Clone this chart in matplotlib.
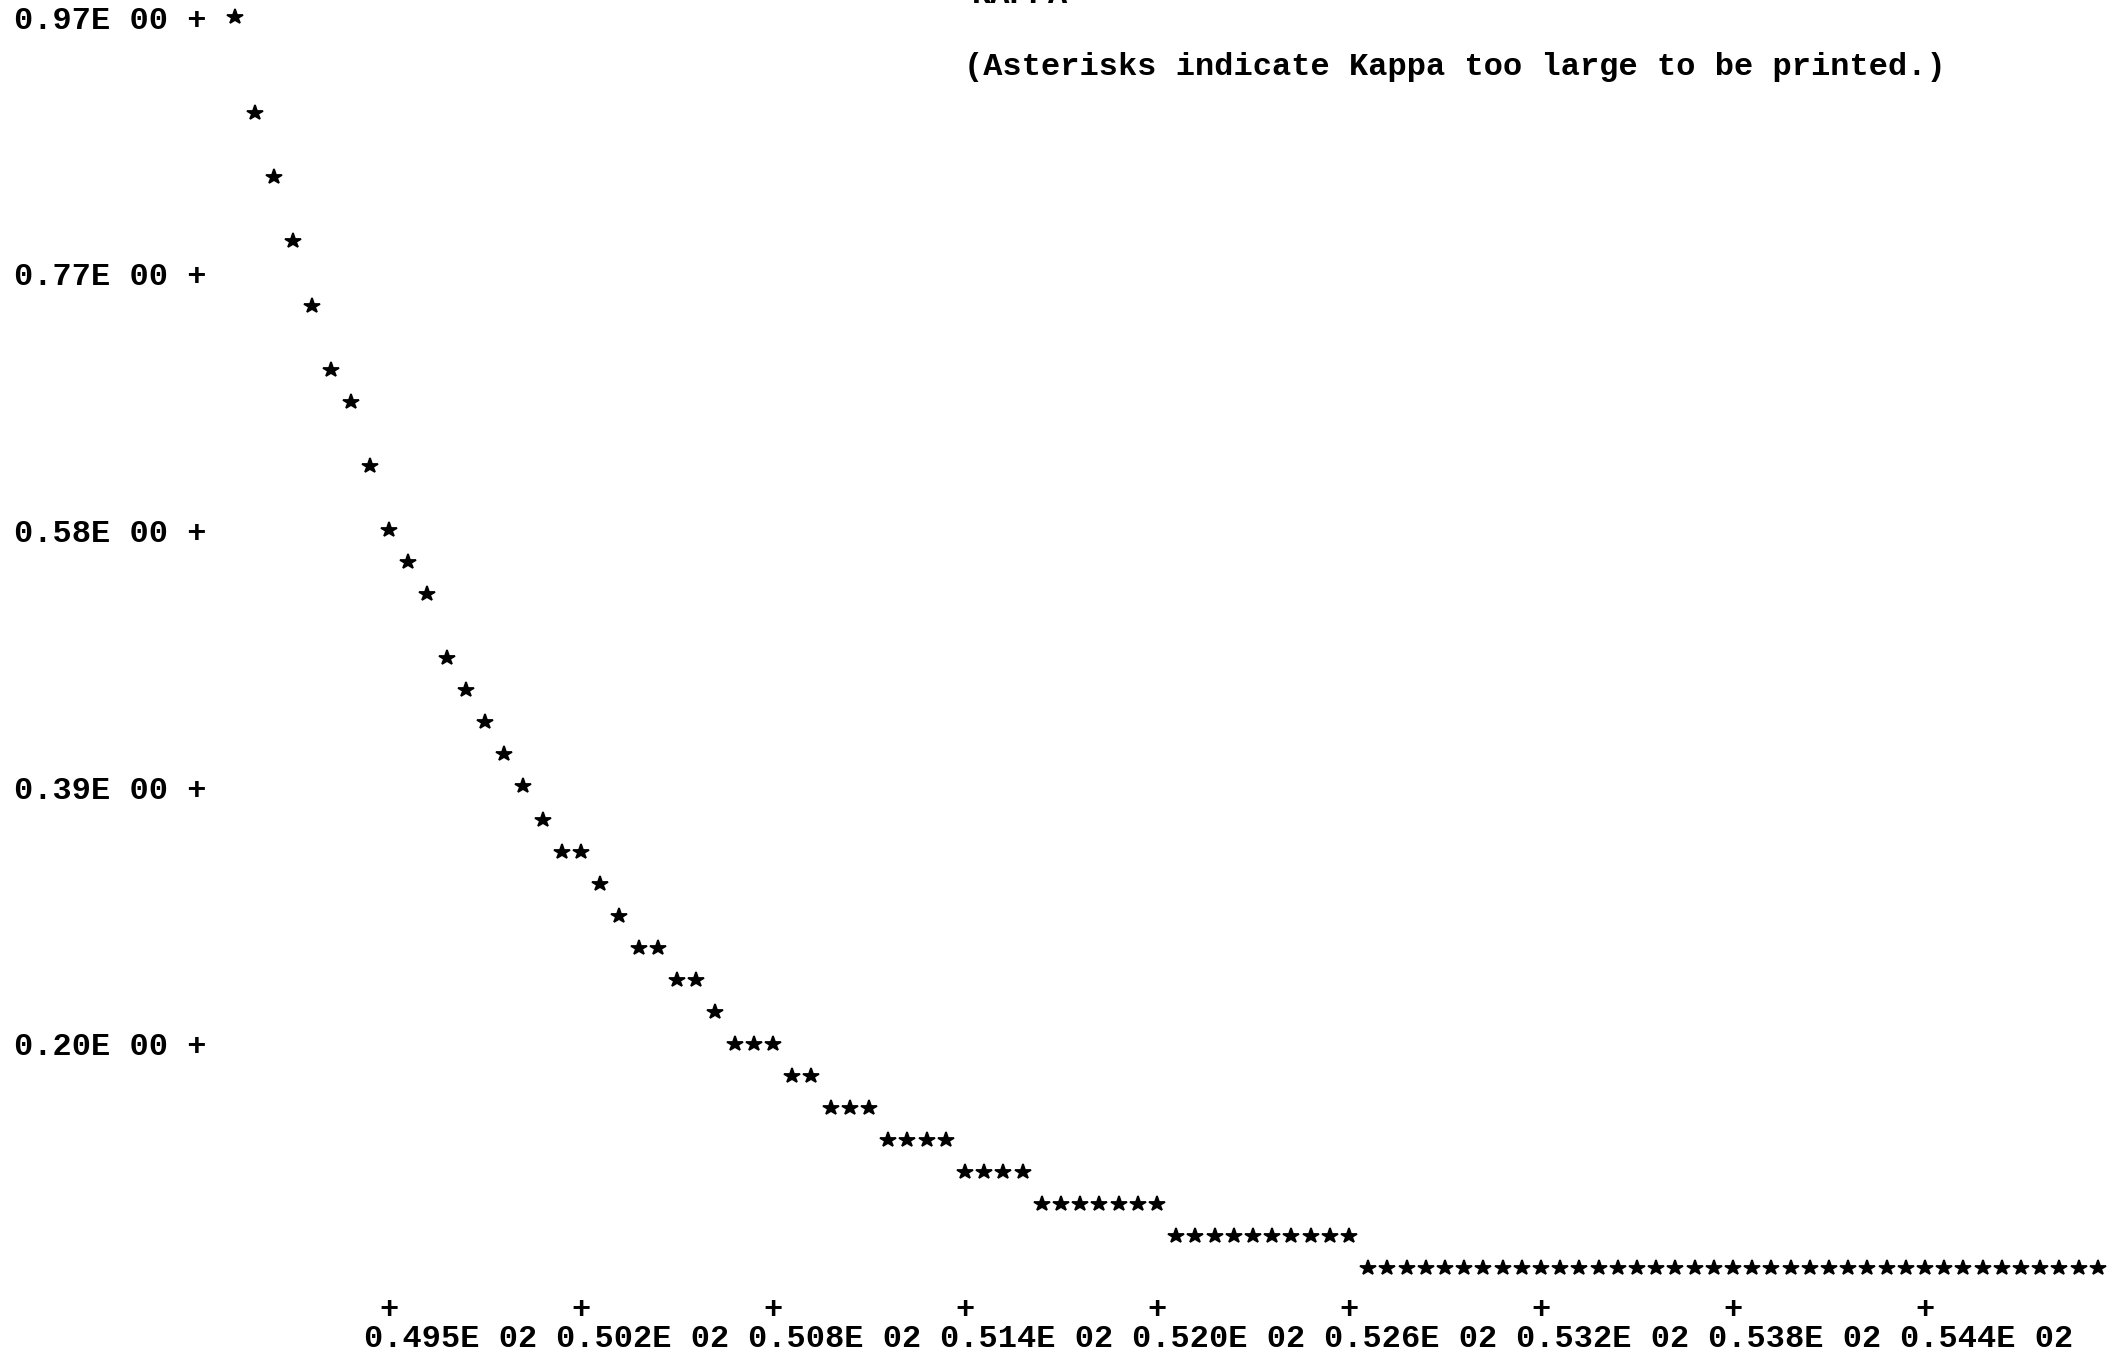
import matplotlib
matplotlib.use('Agg')
import matplotlib.pyplot as plt

# x: one sample per printer column, kappa: printed row level
X = [49.057, 49.118, 49.179, 49.240, 49.301, 49.362, 49.423, 49.484, 49.545, 49.606,
     49.667, 49.728, 49.789, 49.850, 49.911, 49.972, 50.033, 50.094, 50.155, 50.216,
     50.277, 50.338, 50.399, 50.460, 50.521, 50.582, 50.643, 50.704, 50.765, 50.826,
     50.887, 50.948, 51.009, 51.070, 51.131, 51.192, 51.253, 51.314, 51.375, 51.436,
     51.497, 51.558, 51.619, 51.680, 51.741, 51.802, 51.863, 51.924, 51.985, 52.046,
     52.107, 52.168, 52.229, 52.290, 52.351, 52.412, 52.473, 52.534, 52.595, 52.656,
     52.717, 52.778, 52.839, 52.900, 52.961, 53.022, 53.083, 53.144, 53.205, 53.266,
     53.327, 53.388, 53.449, 53.510, 53.571, 53.632, 53.693, 53.754, 53.815, 53.876,
     53.937, 53.998, 54.059, 54.120, 54.181, 54.242, 54.303, 54.364, 54.425, 54.486,
     54.547, 54.608, 54.669, 54.730, 54.791, 54.852, 54.913, 54.974]

KAPPA = [0.970, 0.898, 0.850, 0.802, 0.753, 0.705, 0.681, 0.633, 0.585, 0.561,
         0.537, 0.489, 0.465, 0.441, 0.417, 0.393, 0.368, 0.344, 0.344, 0.320,
         0.296, 0.272, 0.272, 0.248, 0.248, 0.224, 0.200, 0.200, 0.200, 0.176,
         0.176, 0.152, 0.152, 0.152, 0.128, 0.128, 0.128, 0.128, 0.104, 0.104,
         0.104, 0.104, 0.080, 0.080, 0.080, 0.080, 0.080, 0.080, 0.080, 0.056,
         0.056, 0.056, 0.056, 0.056, 0.056, 0.056, 0.056, 0.056, 0.056, 0.032,
         0.032, 0.032, 0.032, 0.032, 0.032, 0.032, 0.032, 0.032, 0.032, 0.032,
         0.032, 0.032, 0.032, 0.032, 0.032, 0.032, 0.032, 0.032, 0.032, 0.032,
         0.032, 0.032, 0.032, 0.032, 0.032, 0.032, 0.032, 0.032, 0.032, 0.032,
         0.032, 0.032, 0.032, 0.032, 0.032, 0.032, 0.032, 0.032]

Y_TICKS = [0.970, 0.7775, 0.585, 0.3925, 0.200]
Y_LABELS = ["0.97E 00 +", "0.77E 00 +", "0.58E 00 +", "0.39E 00 +", "0.20E 00 +"]

X_TICKS = [49.545, 50.155, 50.765, 51.375, 51.985, 52.595, 53.205, 53.815, 54.425]
X_LABELS = ["0.495E 02", "0.502E 02", "0.508E 02", "0.514E 02", "0.520E 02",
            "0.526E 02", "0.532E 02", "0.538E 02", "0.544E 02"]

NOTE = "(Asterisks indicate Kappa too large to be printed.)"
TITLE = "KAPPA"

FONT = dict(family="Liberation Mono", size=23, weight="bold", color="black")

W, H = 2111, 1353
fig = plt.figure(figsize=(W / 100, H / 100), dpi=100)
fig.patch.set_facecolor("white")

# plot area in pixels: left edge at the blank column after the y-axis '+'
left, bottom = 206.6, 1284.2
ax = fig.add_axes([left / W, (H - bottom) / H, (W - left) / W, bottom / H])
ax.set_xlim(48.9655, 55.0159)
ax.set_ylim(0.01963, 0.98275)
for s in ax.spines.values():
    s.set_visible(False)
ax.set_facecolor("none")

ax.plot(X, KAPPA, ls="none", marker="*", ms=11.5, mew=1.3, color="black",
        markeredgecolor="black", clip_on=False)

ax.set_yticks(Y_TICKS, Y_LABELS)
ax.set_xticks(X_TICKS, ["+"] * len(X_TICKS))
ax.tick_params(axis="y", length=0, pad=0)
ax.tick_params(axis="x", length=0, pad=7.5)
for lab in ax.get_yticklabels() + ax.get_xticklabels():
    lab.set_fontfamily(FONT["family"])
    lab.set_fontsize(FONT["size"])
    lab.set_fontweight(FONT["weight"])

# printed axis values sit one column left of each '+'
for xt, lbl in zip(X_TICKS, X_LABELS):
    ax.annotate(lbl, xy=(xt, 0), xycoords=("data", "axes fraction"),
                xytext=(-18.0, -45.5), textcoords="offset points",
                ha="left", va="baseline", annotation_clip=False, **FONT)

fig.text(964 / W, 1 - 75 / H, NOTE, ha="left", va="baseline", **FONT)
fig.text(972 / W, 1 - 3 / H, TITLE, ha="left", va="baseline", **FONT)

fig.savefig("out.png", dpi=100, facecolor="white")
